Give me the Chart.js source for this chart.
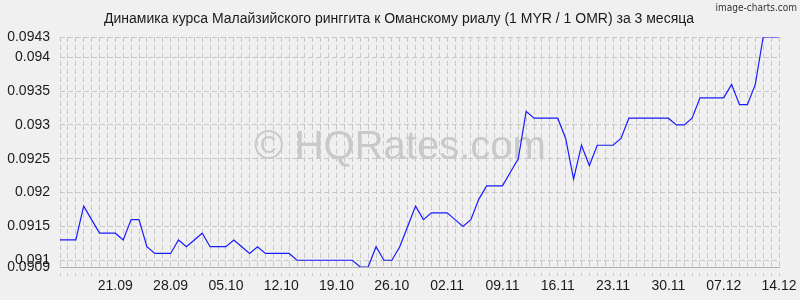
<!DOCTYPE html>
<html><head><meta charset="utf-8">
<script src="https://cdn.jsdelivr.net/npm/chart.js@4/dist/chart.umd.min.js"></script>
<style>html,body{margin:0;padding:0;background:#f0f0f0;}#wrap{width:800px;height:300px;}</style>
</head><body><div id="wrap"><canvas id="c" width="800" height="300"></canvas></div>
<script>
const dates = [
"14.09","15.09","16.09","17.09","18.09","19.09","20.09","21.09","22.09","23.09","24.09","25.09","26.09","27.09","28.09","29.09","30.09",
"01.10","02.10","03.10","04.10","05.10","06.10","07.10","08.10","09.10","10.10","11.10","12.10","13.10","14.10","15.10","16.10","17.10","18.10","19.10","20.10","21.10","22.10","23.10","24.10","25.10","26.10","27.10","28.10","29.10","30.10","31.10",
"01.11","02.11","03.11","04.11","05.11","06.11","07.11","08.11","09.11","10.11","11.11","12.11","13.11","14.11","15.11","16.11","17.11","18.11","19.11","20.11","21.11","22.11","23.11","24.11","25.11","26.11","27.11","28.11","29.11","30.11",
"01.12","02.12","03.12","04.12","05.12","06.12","07.12","08.12","09.12","10.12","11.12","12.12","13.12","14.12"];
const rates = [
0.0913,0.0913,0.0913,0.0918,0.0916,0.0914,0.0914,0.0914,0.0913,0.0916,0.0916,0.0912,0.0911,0.0911,0.0911,0.0913,0.0912,
0.0913,0.0914,0.0912,0.0912,0.0912,0.0913,0.0912,0.0911,0.0912,0.0911,0.0911,0.0911,0.0911,0.0910,0.0910,0.0910,0.0910,0.0910,0.0910,0.0910,0.0910,0.0909,0.0909,0.0912,0.0910,0.0910,0.0912,0.0915,0.0918,0.0916,0.0917,
0.0917,0.0917,0.0916,0.0915,0.0916,0.0919,0.0921,0.0921,0.0921,0.0923,0.0925,0.0932,0.0931,0.0931,0.0931,0.0931,0.0928,0.0922,0.0927,0.0924,0.0927,0.0927,0.0927,0.0928,0.0931,0.0931,0.0931,0.0931,0.0931,0.0931,
0.0930,0.0930,0.0931,0.0934,0.0934,0.0934,0.0934,0.0936,0.0933,0.0933,0.0936,0.0943,0.0943,0.0943];
const xTickLabels = ["21.09","28.09","05.10","12.10","19.10","26.10","02.11","09.11","16.11","23.11","30.11","07.12","14.12"];
const yTickValues = [0.0909,0.091,0.0915,0.092,0.0925,0.093,0.0935,0.094,0.0943];
const yTickLabels = ["0.0909","0.091","0.0915","0.092","0.0925","0.093","0.0935","0.094","0.0943"];
const titleText = "Динамика курса Малайзийского ринггита к Оманскому риалу (1 MYR / 1 OMR) за 3 месяца";
const watermarkText = "© HQRates.com";
const creditText = "image-charts.com";

const FONT = '"Liberation Sans", Arial, sans-serif';
const decor = {
  id: 'decor',
  beforeDraw(chart) {
    const ctx = chart.ctx;
    ctx.save();
    ctx.fillStyle = '#f0f0f0';
    ctx.fillRect(0, 0, chart.width, chart.height);
    ctx.fillStyle = '#1a1a1a';
    ctx.font = '14px ' + FONT;
    ctx.textAlign = 'center';
    ctx.textBaseline = 'alphabetic';
    ctx.fillText(titleText, 399, 23);
    ctx.fillStyle = '#333';
    ctx.font = '10px "Liberation Sans Narrow", "DejaVu Sans Condensed", sans-serif';
    ctx.textAlign = 'right';
    ctx.fillText(creditText, 797, 11);
    ctx.restore();
  },
  beforeDatasetsDraw(chart) {
    const ctx = chart.ctx;
    ctx.save();
    ctx.fillStyle = '#c9c9c9';
    ctx.font = '40px ' + FONT;
    ctx.textAlign = 'center';
    ctx.textBaseline = 'middle';
    ctx.fillText(watermarkText, 400, 148);
    ctx.restore();
  }
};

new Chart(document.getElementById('c'), {
  type: 'line',
  data: {
    labels: dates,
    datasets: [{
      data: rates,
      borderColor: '#1a1aff',
      borderWidth: 1.2,
      pointRadius: 0,
      tension: 0,
      fill: false
    }]
  },
  options: {
    responsive: false,
    animation: false,
    devicePixelRatio: 1,
    layout: { padding: { top: 37, right: 21, left: 0, bottom: 0 } },
    plugins: { legend: { display: false }, title: { display: false }, tooltip: { enabled: false } },
    scales: {
      x: {
        type: 'category',
        offset: false,
        afterFit(s) { s.height = 33; },
        grid: { color: '#c8c8c8', tickLength: 9, drawTicks: true, tickColor: '#c8c8c8', tickBorderDash: [0, 5, 4, 100] },
        border: { display: true, color: '#b0b0b0', width: 1, dash: [5, 3] },
        ticks: {
          autoSkip: false, maxRotation: 0, minRotation: 0, padding: 2,
          color: '#1a1a1a', font: { size: 14, family: FONT },
          callback(v, i) { return xTickLabels.includes(dates[i]) ? dates[i] : ''; }
        }
      },
      y: {
        min: 0.0909, max: 0.0943,
        afterFit(s) { s.width = 60; },
        afterBuildTicks(s) { s.ticks = yTickValues.map(v => ({ value: v })); },
        grid: { color: '#c8c8c8', drawTicks: false },
        border: { display: false, dash: [5, 3] },
        ticks: {
          autoSkip: false, padding: 10,
          color: '#1a1a1a', font: { size: 14, family: FONT },
          callback(v, i) { return yTickLabels[i]; }
        }
      }
    }
  },
  plugins: [decor]
});
</script></body></html>
